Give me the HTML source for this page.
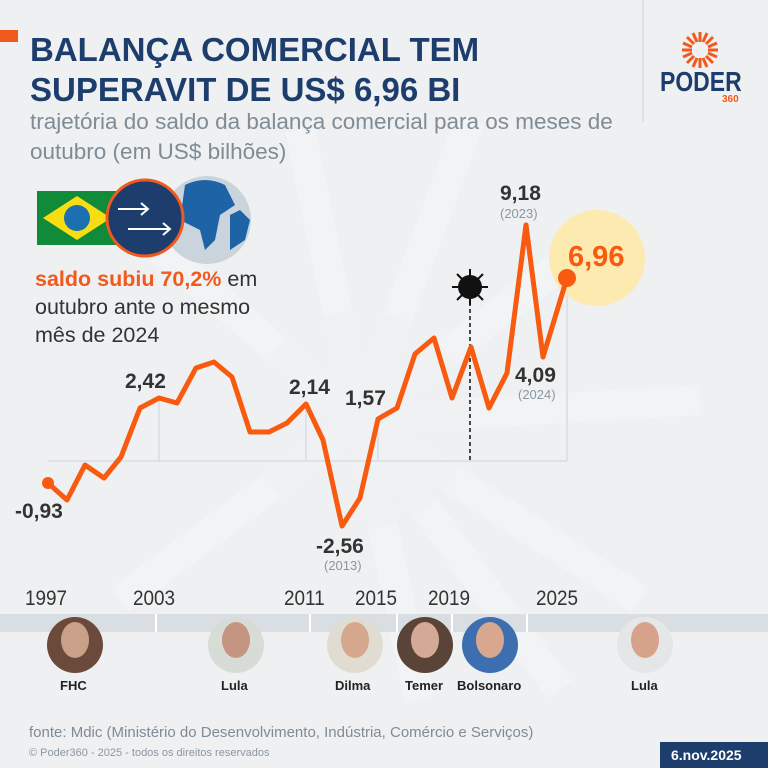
<!DOCTYPE html>
<html><head><meta charset="utf-8"><style>
*{margin:0;padding:0;box-sizing:border-box}
body{width:768px;height:768px;background:#eef0f2;font-family:"Liberation Sans",sans-serif;position:relative;overflow:hidden}
.a{position:absolute;white-space:nowrap}
.t{left:30px;top:30px;font-size:33px;font-weight:bold;color:#1d3e6d;line-height:40px}
.s{left:30px;top:107px;font-size:22.5px;color:#7f8c96;line-height:30px}
.yr{font-size:21px;color:#333;top:587px;transform:scaleX(0.9);transform-origin:left}
.nm{font-size:13px;font-weight:bold;color:#222;top:678px}
.lb{font-weight:bold;color:#333;font-size:21px}
.sm{font-size:13px;color:#8a97a3}
</style></head><body>
<svg class="a" style="left:0;top:0" width="768" height="768">
<g stroke="#f4f5f6" stroke-width="30" opacity="0.7">
<line x1="360" y1="420" x2="300" y2="130"/><line x1="360" y1="420" x2="470" y2="120"/>
<line x1="360" y1="420" x2="620" y2="220"/><line x1="360" y1="420" x2="700" y2="400"/>
<line x1="360" y1="420" x2="640" y2="600"/><line x1="360" y1="420" x2="160" y2="250"/>
<line x1="360" y1="420" x2="120" y2="600"/><line x1="360" y1="420" x2="420" y2="700"/>
<line x1="360" y1="420" x2="560" y2="690"/></g>
<circle cx="360" cy="420" r="110" fill="#eef0f2" opacity="0.6"/>
<rect x="0" y="30" width="18" height="12" fill="#f15a1d"/>
<line x1="643" y1="0" x2="643" y2="122" stroke="#dde1e5" stroke-width="2"/>
<g transform="translate(700,50)" stroke="#f15a1d" stroke-width="3">
<line x1="0" y1="-8" x2="0" y2="-18"/><line x1="6" y1="-6" x2="13" y2="-13"/><line x1="8" y1="0" x2="18" y2="0"/><line x1="6" y1="6" x2="13" y2="13"/><line x1="0" y1="8" x2="0" y2="18"/><line x1="-6" y1="6" x2="-13" y2="13"/><line x1="-8" y1="0" x2="-18" y2="0"/><line x1="-6" y1="-6" x2="-13" y2="-13"/>
<line x1="3" y1="-8" x2="7" y2="-17"/><line x1="8" y1="-3" x2="17" y2="-7"/><line x1="8" y1="3" x2="17" y2="7"/><line x1="3" y1="8" x2="7" y2="17"/><line x1="-3" y1="8" x2="-7" y2="17"/><line x1="-8" y1="3" x2="-17" y2="7"/><line x1="-8" y1="-3" x2="-17" y2="-7"/><line x1="-3" y1="-8" x2="-7" y2="-17"/>
</g>
<rect x="37" y="191" width="80" height="54" fill="#0f8b3a"/>
<polygon points="43,218 77,196 111,218 77,240" fill="#f6de12"/>
<circle cx="77" cy="218" r="13" fill="#1c6fb0"/>
<circle cx="207" cy="220" r="44" fill="#c9d4dc"/>
<path d="M185 185 q20 -10 40 0 l10 20 -15 10 -5 25 -10 10 -5 -20 -20 -10z M230 215 l10 -5 10 10 -5 20 -15 10z" fill="#1e63a6"/>
<circle cx="145" cy="218" r="38" fill="#1d3e6d" stroke="#f15a1d" stroke-width="3"/>
<g stroke="#fff" stroke-width="2" fill="none"><path d="M118 209h30m-7-6 7 6-7 6"/><path d="M128 229h42m-7-6 7 6-7 6"/></g>
<g stroke="#d8dde2" stroke-width="1.5" fill="none">
<line x1="48" y1="461" x2="567" y2="461"/>
<line x1="159" y1="461" x2="159" y2="398"/><line x1="306" y1="461" x2="306" y2="404"/>
<line x1="378" y1="461" x2="378" y2="419"/><line x1="567" y1="461" x2="567" y2="278"/></g>
<line x1="470" y1="302" x2="470" y2="460" stroke="#111" stroke-width="1.5" stroke-dasharray="4,3"/>
<circle cx="470" cy="287" r="12" fill="#111"/>
<g stroke="#111" stroke-width="2"><line x1="470" y1="269" x2="470" y2="305"/><line x1="452" y1="287" x2="488" y2="287"/><line x1="457" y1="274" x2="483" y2="300"/><line x1="483" y1="274" x2="457" y2="300"/></g>
<circle cx="597" cy="258" r="48" fill="#fdeab0"/>
<polyline fill="none" stroke="#f85a10" stroke-width="5" stroke-linejoin="round" points="48,483 67,500 85,465 104,478 121,457 140,408 159,398 177,403 196,368 214,362 232,377 250,432 269,432 287,423 306,404 323,440 342,526 360,498 378,419 397,408 415,354 434,338 452,398 471,347 489,408 507,373 526,225 543,357 567,278"/>
<circle cx="48" cy="483" r="6" fill="#f85a10"/>
<circle cx="567" cy="278" r="9" fill="#f85a10"/>
<rect x="0" y="614" width="768" height="18" fill="#d9dee3"/>
<g stroke="#fff" stroke-width="2"><line x1="156" y1="614" x2="156" y2="632"/><line x1="310" y1="614" x2="310" y2="632"/><line x1="397" y1="614" x2="397" y2="632"/><line x1="452" y1="614" x2="452" y2="632"/><line x1="527" y1="614" x2="527" y2="632"/></g>
<g><ellipse cx="75" cy="645" rx="28" ry="28" fill="#6b4a3c"/><ellipse cx="75" cy="640" rx="14" ry="18" fill="#c9a189"/>
<ellipse cx="236" cy="645" rx="28" ry="28" fill="#d7dcd6"/><ellipse cx="236" cy="640" rx="14" ry="18" fill="#c49580"/>
<ellipse cx="355" cy="645" rx="28" ry="28" fill="#e1dcd2"/><ellipse cx="355" cy="640" rx="14" ry="18" fill="#d5a88e"/>
<ellipse cx="425" cy="645" rx="28" ry="28" fill="#5a4337"/><ellipse cx="425" cy="640" rx="14" ry="18" fill="#d2aa95"/>
<ellipse cx="490" cy="645" rx="28" ry="28" fill="#3c6eb0"/><ellipse cx="490" cy="640" rx="14" ry="18" fill="#d8a78e"/>
<ellipse cx="645" cy="645" rx="28" ry="28" fill="#e4e6e8"/><ellipse cx="645" cy="640" rx="14" ry="18" fill="#d7a28a"/></g>
<rect x="660" y="742" width="108" height="26" fill="#1d3e6d"/>
</svg>
<div class="a t">BALANÇA COMERCIAL TEM<br>SUPERAVIT DE US$ 6,96 BI</div>
<div class="a s">trajetória do saldo da balança comercial para os meses de<br>outubro (em US$ bilhões)</div>
<div class="a" style="left:660px;top:66px;font-size:28px;font-weight:bold;color:#1d3e6d;transform:scaleX(0.82);transform-origin:left">PODER</div>
<div class="a" style="left:722px;top:94px;font-size:10px;font-weight:bold;color:#f15a1d">360</div>
<div class="a" style="left:35px;top:265px;font-size:21.5px;color:#333;line-height:28px"><b style="color:#f15a1d">saldo subiu 70,2%</b> em<br>outubro ante o mesmo<br>mês de 2024</div>
<div class="a lb" style="left:15px;top:500px">-0,93</div>
<div class="a lb" style="left:125px;top:370px">2,42</div>
<div class="a lb" style="left:289px;top:376px">2,14</div>
<div class="a lb" style="left:345px;top:387px">1,57</div>
<div class="a lb" style="left:316px;top:535px">-2,56</div>
<div class="a sm" style="left:324px;top:558px">(2013)</div>
<div class="a lb" style="left:500px;top:182px">9,18</div>
<div class="a sm" style="left:500px;top:206px">(2023)</div>
<div class="a lb" style="left:515px;top:364px">4,09</div>
<div class="a sm" style="left:518px;top:387px">(2024)</div>
<div class="a" style="left:568px;top:241px;font-size:29px;font-weight:bold;color:#f85a10">6,96</div>
<div class="a yr" style="left:25px">1997</div>
<div class="a yr" style="left:133px">2003</div>
<div class="a yr" style="left:284px">2011</div>
<div class="a yr" style="left:355px">2015</div>
<div class="a yr" style="left:428px">2019</div>
<div class="a yr" style="left:536px">2025</div>
<div class="a nm" style="left:60px">FHC</div>
<div class="a nm" style="left:221px">Lula</div>
<div class="a nm" style="left:335px">Dilma</div>
<div class="a nm" style="left:405px">Temer</div>
<div class="a nm" style="left:457px">Bolsonaro</div>
<div class="a nm" style="left:631px">Lula</div>
<div class="a" style="left:29px;top:724px;font-size:15px;color:#7f8c96">fonte: Mdic (Ministério do Desenvolvimento, Indústria, Comércio e Serviços)</div>
<div class="a" style="left:29px;top:747px;font-size:11px;color:#8a97a3">© Poder360 - 2025 - todos os direitos reservados</div>
<div class="a" style="left:671px;top:747px;font-size:14px;font-weight:bold;color:#fff">6.nov.2025</div>
</body></html>
